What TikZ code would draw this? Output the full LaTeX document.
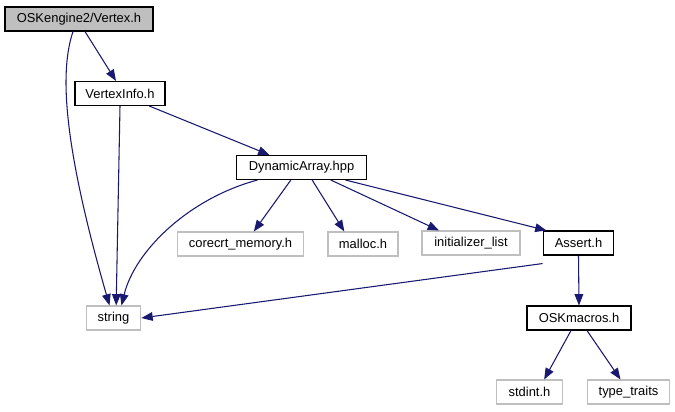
\documentclass[tikz,border=0pt]{standalone}
\usepackage{fontspec}
\setmainfont{Liberation Sans}
\usetikzlibrary{arrows.meta}
\definecolor{edgeblue}{HTML}{191970}
\definecolor{extgray}{HTML}{BFBFBF}
\begin{document}
\begin{tikzpicture}[x=0.75pt,y=-0.75pt,
  file/.style={draw=black,fill=white,line width=0.8pt,minimum height=18pt,inner sep=0pt,font=\fontsize{9.7}{11}\selectfont},
  extfile/.style={file,draw=extgray},
  current/.style={file,fill=extgray},
  dep/.style={draw=edgeblue,line width=0.8pt,-{Triangle[length=8.5pt,width=6.5pt]}}]
\useasboundingbox (0,0) rectangle (675,411);
\node[current,minimum width=111pt] (v) at (79,19) {OSKengine2/Vertex.h};
\node[file,minimum width=67.5pt] (vi) at (120,93.5) {VertexInfo.h};
\node[file,minimum width=98pt] (da) at (301.5,167.5) {DynamicArray.hpp};
\node[extfile,minimum width=95pt] (cm) at (240.5,244) {corecrt\_memory.h};
\node[extfile,minimum width=52.5pt] (ma) at (363,244) {malloc.h};
\node[extfile,minimum width=73.5pt] (il) at (471,243) {initializer\_list};
\node[file,minimum width=53pt] (as) at (578.5,243) {Assert.h};
\node[extfile,minimum width=41pt] (st) at (113.5,318) {string};
\node[file,minimum width=78pt] (om) at (579,318) {OSKmacros.h};
\node[extfile,minimum width=49pt] (si) at (529.5,392) {stdint.h};
\node[extfile,minimum width=62pt] (tt) at (628.5,392) {type\_traits};
\draw[dep] ([xshift=4.5pt]v.south) -- ([xshift=-3pt]vi.north);
\draw[dep] ([xshift=-4.5pt]v.south) .. controls (60,70) and (62,140) .. ([xshift=-3pt]st.north);
\draw[dep] ([xshift=0pt]vi.south) -- ([xshift=2pt]st.north);
\draw[dep] ([xshift=22pt]vi.south) -- ([xshift=-24pt]da.north);
\draw[dep] ([xshift=-33pt]da.south) .. controls (190,198) and (135,250) .. ([xshift=6pt]st.north);
\draw[dep] ([xshift=-8pt]da.south) -- ([xshift=10pt]cm.north);
\draw[dep] ([xshift=8pt]da.south) -- ([xshift=-14pt]ma.north);
\draw[dep] ([xshift=22pt]da.south) -- ([xshift=-24pt]il.north);
\draw[dep] ([xshift=33pt]da.south) -- ([xshift=-24pt]as.north);
\draw[dep] ([yshift=-6pt]as.south west) -- (st.east);
\draw[dep] (as.south) -- (om.north);
\draw[dep] ([xshift=-6pt]om.south) -- ([xshift=11pt]si.north);
\draw[dep] ([xshift=6pt]om.south) -- ([xshift=-6pt]tt.north);
\end{tikzpicture}
\end{document}
